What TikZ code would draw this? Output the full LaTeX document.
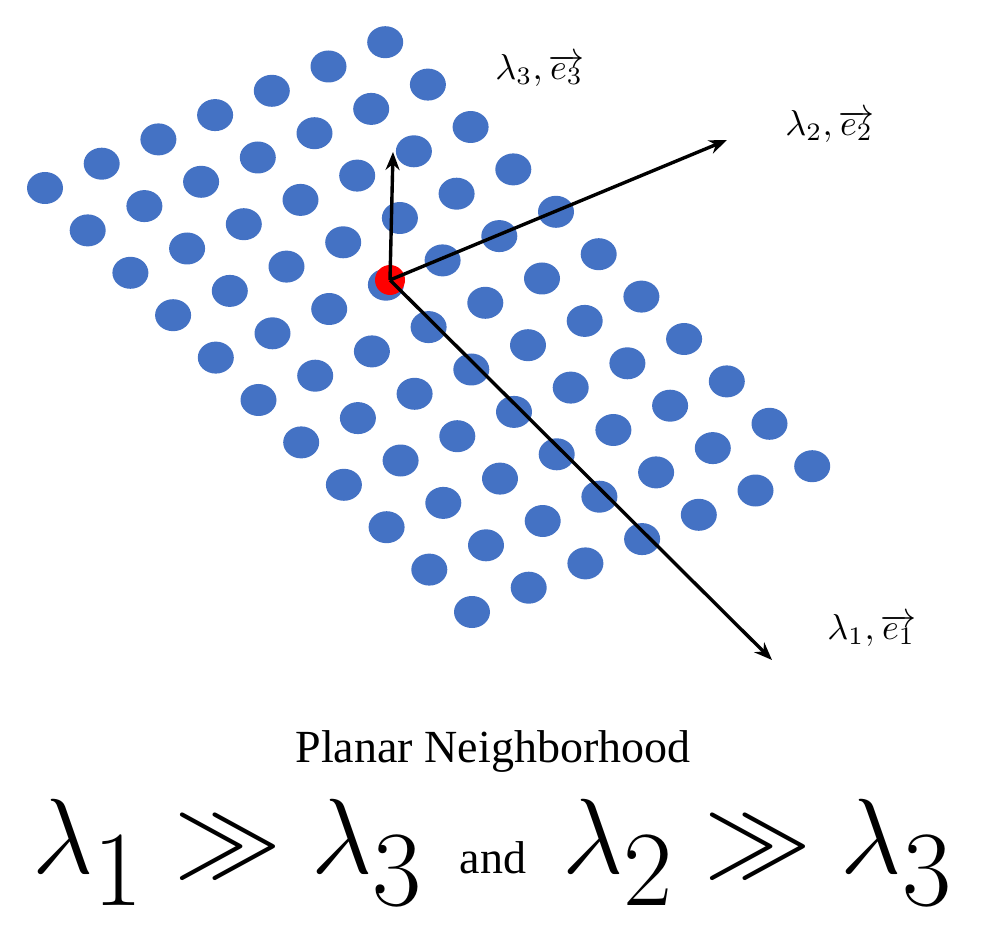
\documentclass[tikz,border=0pt]{standalone}
\usepackage{fontspec}
\setmainfont{Liberation Serif}
\usetikzlibrary{arrows.meta}
\newcommand{\scmath}[2]{\scalebox{#1}{$#2$}}
\begin{document}
\begin{tikzpicture}[x=1pt,y=-1pt,
  bluedot/.style={fill={rgb,255:red,68;green,114;blue,196}},
  vec/.style={line width=3.4pt,-{Stealth[length=18pt,width=14pt]}},
  lab/.style={inner sep=0pt}]
\useasboundingbox (0,0) rectangle (986,933);
\foreach \i in {0,...,6}{
  \foreach \j in {0,...,10}{
    \fill[bluedot] ({45+56.7*\i+42.7*\j},{188-24.3*\i+42.4*\j}) ellipse [x radius=18,y radius=16];
  }}
\fill[red] (390,280) circle (15);
\coordinate (o) at (390,280);
\coordinate (e3) at (393,152);
\coordinate (e2) at (727,140);
\coordinate (e1) at (772,660);
\draw[vec] (o) -- (e3);
\draw[vec] (o) -- (e2);
\draw[vec] (o) -- (e1);
\node[lab] (l3) at (540,70) {\scmath{3.6}{\lambda_3,\overrightarrow{e_3}}};
\node[lab] (l2) at (830,126) {\scmath{3.6}{\lambda_2,\overrightarrow{e_2}}};
\node[lab] (l1) at (872,630) {\scmath{3.6}{\lambda_1,\overrightarrow{e_1}}};
\node[font=\fontsize{46}{50}\selectfont] (t1) at (493,752) {Planar Neighborhood};
\node[font=\fontsize{46}{50}\selectfont] (t2) at (493,852) {\scmath{4.3}{\lambda_1\gg\lambda_3}\hspace{36pt}and\hspace{36pt}\scmath{4.3}{\lambda_2\gg\lambda_3}};
\end{tikzpicture}
\end{document}
